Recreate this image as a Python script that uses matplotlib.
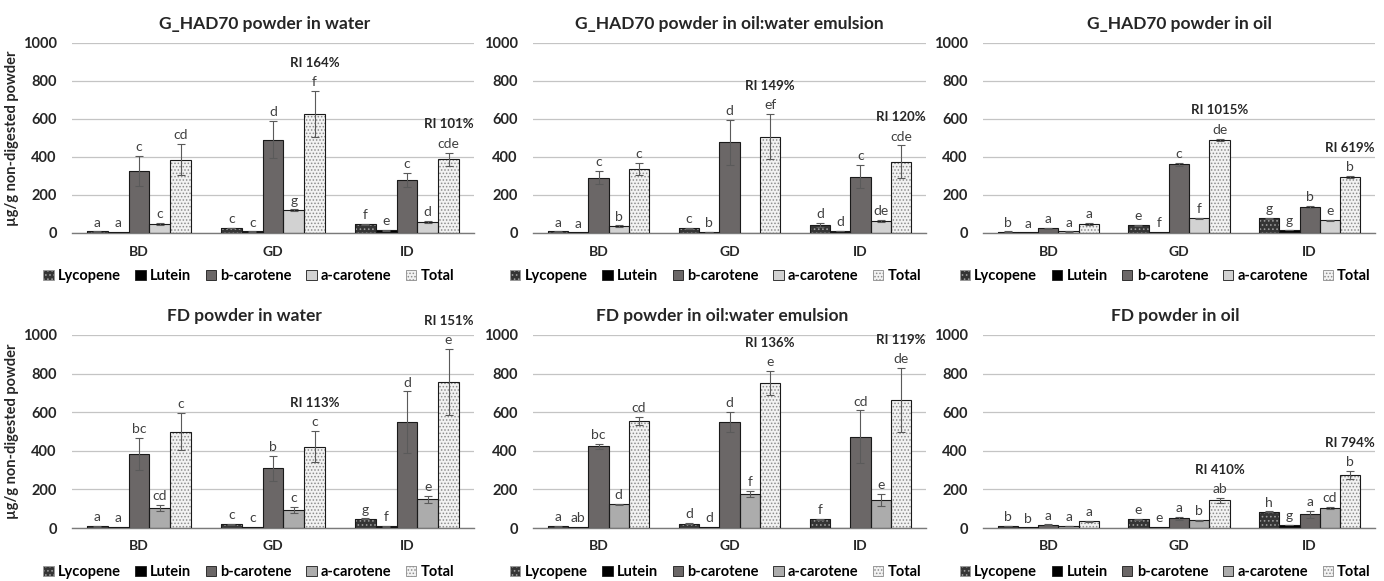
import matplotlib
matplotlib.use('Agg')
import matplotlib.pyplot as plt
from matplotlib.patches import Patch
import numpy as np

plt.rcParams['font.family'] = ['Lato', 'DejaVu Sans']
plt.rcParams['hatch.linewidth'] = 0.7

categories = ['BD', 'GD', 'ID']
series = ['Lycopene', 'Lutein', 'b-carotene', 'a-carotene', 'Total']
titles = ['G_HAD70 powder in water', 'G_HAD70 powder in oil:water emulsion', 'G_HAD70 powder in oil',
          'FD powder in water', 'FD powder in oil:water emulsion', 'FD powder in oil']
ylabel = 'µg/g non-digested powder'

# rows = series, columns = categories (BD, GD, ID)
p1_mean = [[8, 26, 45], [4, 8, 14], [327, 491, 278], [47, 119, 58], [385, 626, 388]]
p1_err = [[1, 2, 3], [0, 1, 1], [78, 98, 37], [5, 5, 4], [82, 120, 35]]
p1_let = [['a', 'c', 'f'], ['a', 'c', 'e'], ['c', 'd', 'c'], ['c', 'g', 'd'], ['cd', 'f', 'cde']]
p1_ri = ['', 'RI 164%', 'RI 101%']

p2_mean = [[8, 25, 42], [3, 6, 10], [292, 477, 296], [37, 0, 63], [338, 507, 375]]
p2_err = [[1, 3, 10], [0, 1, 1], [34, 118, 61], [3, 0, 5], [33, 120, 86]]
p2_let = [['a', 'c', 'd'], ['a', 'b', 'd'], ['c', 'd', 'c'], ['b', '', 'de'], ['c', 'ef', 'cde']]
p2_ri = ['', 'RI 149%', 'RI 120%']

p3_mean = [[7, 40, 77], [3, 6, 17], [24, 361, 138], [8, 77, 66], [49, 490, 296]]
p3_err = [[1, 2, 2], [0, 0, 1], [3, 6, 6], [1, 2, 3], [5, 7, 5]]
p3_let = [['b', 'e', 'g'], ['a', 'f', 'g'], ['a', 'c', 'b'], ['a', 'f', 'e'], ['a', 'de', 'b']]
p3_ri = ['', 'RI 1015%', 'RI 619%']

p4_mean = [[8, 19, 48], [4, 4, 8], [383, 310, 548], [103, 93, 148], [500, 422, 755]]
p4_err = [[1, 2, 2], [0, 0, 1], [83, 64, 160], [17, 15, 20], [95, 81, 172]]
p4_let = [['a', 'c', 'g'], ['a', 'c', 'f'], ['bc', 'b', 'd'], ['cd', 'c', 'e'], ['c', 'c', 'e']]
p4_ri = ['', 'RI 113%', 'RI 151%']

p5_mean = [[8, 23, 45], [4, 4, 0], [423, 548, 473], [122, 176, 146], [553, 751, 663]]
p5_err = [[1, 2, 2], [0, 0, 0], [12, 52, 136], [3, 15, 30], [21, 63, 167]]
p5_let = [['a', 'd', 'f'], ['ab', 'd', ''], ['bc', 'd', 'cd'], ['d', 'f', 'e'], ['cd', 'e', 'de']]
p5_ri = ['', 'RI 136%', 'RI 119%']

p6_mean = [[10, 45, 84], [3, 5, 15], [17, 50, 70], [10, 41, 106], [34, 144, 276]]
p6_err = [[1, 2, 2], [0, 0, 1], [2, 8, 17], [2, 3, 5], [4, 12, 20]]
p6_let = [['b', 'e', 'h'], ['b', 'e', 'g'], ['a', 'a', 'a'], ['a', 'b', 'cd'], ['a', 'ab', 'b']]
p6_ri = ['', 'RI 410%', 'RI 794%']

panels = [
    (p1_mean, p1_err, p1_let, p1_ri),
    (p2_mean, p2_err, p2_let, p2_ri),
    (p3_mean, p3_err, p3_let, p3_ri),
    (p4_mean, p4_err, p4_let, p4_ri),
    (p5_mean, p5_err, p5_let, p5_ri),
    (p6_mean, p6_err, p6_let, p6_ri),
]

# styles
W, H = 1384, 581
face_colors_top = ['#353535', '#000000', '#6b6767', '#d2d2d2', '#f2f2f2']
face_colors_bot = ['#353535', '#000000', '#6b6767', '#acacac', '#f2f2f2']
hatches = ['....', None, None, None, '.....']
hatch_colors = ['#9a9a9a', None, None, None, '#8c8c8c']

fig = plt.figure(figsize=(W / 100, H / 100), dpi=100)
lefts = [72, 533, 983]
rights = [474, 926, 1375]
row_y = [(43, 233), (335, 528)]
title_x = [[0.478, 0.5, 0.5], [0.43, 0.48, 0.49]]
legend_x = [0.44, 0.465, 0.465]

bw = 0.155
offsets = (np.arange(5) - 2) * bw
x = np.arange(len(categories))

for idx, (mean, err, let, ri) in enumerate(panels):
    r, c = divmod(idx, 3)
    y1, y0 = row_y[r]
    ax = fig.add_axes([lefts[c] / W, 1 - y0 / H, (rights[c] - lefts[c]) / W, (y0 - y1) / H])
    fcs = face_colors_top if r == 0 else face_colors_bot
    handles = []
    for s in range(5):
        xs = x + offsets[s]
        vals = np.array(mean[s], dtype=float)
        errs = np.array(err[s], dtype=float)
        if hatches[s]:
            ax.bar(xs, vals, bw, color=fcs[s], hatch=hatches[s], edgecolor=hatch_colors[s], linewidth=0, zorder=2)
        else:
            ax.bar(xs, vals, bw, color=fcs[s], linewidth=0, zorder=2)
        ax.bar(xs, vals, bw, facecolor='none', edgecolor='#1a1a1a', linewidth=0.8, zorder=3)
        mask = errs > 0
        ax.errorbar(xs[mask], vals[mask], yerr=errs[mask], fmt='none', ecolor='#5a5a5a',
                    elinewidth=0.8, capsize=3, capthick=0.8, zorder=4)
        for k in range(3):
            if let[s][k]:
                ax.annotate(let[s][k], (xs[k], vals[k] + errs[k]), xytext=(0, 2), textcoords='offset points',
                            ha='center', va='bottom', fontsize=10, color='#404040', zorder=5)
        handles.append(Patch(facecolor=fcs[s], hatch=hatches[s],
                             edgecolor=hatch_colors[s] if hatches[s] else '#1a1a1a', linewidth=0.6,
                             label=series[s]))
    tot = np.array(mean[4], dtype=float) + np.array(err[4], dtype=float)
    for k in range(3):
        if ri[k]:
            ax.annotate(ri[k], (x[k] + offsets[4], tot[k]), xytext=(0, 16), textcoords='offset points',
                        ha='center', va='bottom', fontsize=9.5, fontweight='bold', color='#262626',
                        annotation_clip=False)
    ax.set_xlim(-0.5, 2.5)
    ax.set_ylim(0, 1000)
    ax.set_yticks(np.arange(0, 1001, 200))
    ax.yaxis.grid(True, color='#c4c4c4', linewidth=0.9, zorder=0)
    ax.set_axisbelow(True)
    for sp in ['top', 'right', 'left']:
        ax.spines[sp].set_visible(False)
    ax.spines['bottom'].set_color('#7a7a7a')
    ax.spines['bottom'].set_linewidth(1.0)
    ax.set_xticks(x)
    ax.set_xticklabels(categories, fontsize=10, fontweight='bold', color='#262626')
    ax.tick_params(axis='both', length=0)
    ax.tick_params(axis='x', pad=9)
    ax.tick_params(axis='y', pad=11, labelsize=10.5, labelcolor='#262626')
    for t in ax.get_yticklabels():
        t.set_fontweight('bold')
    ax.set_title(titles[idx], fontsize=12.5, fontweight='bold', color='#262626', x=title_x[r][c], pad=10)
    if c == 0:
        ax.set_ylabel(ylabel, fontsize=10.5, fontweight='bold', color='#262626', labelpad=3)
    ax.legend(handles=handles, loc='upper center', bbox_to_anchor=(legend_x[c], -0.16), ncol=5,
              frameon=False, prop={'weight': 'bold', 'size': 10.5}, handlelength=0.7, handleheight=0.7,
              handletextpad=0.3, columnspacing=1.0, borderaxespad=0)

fig.savefig('out.png', dpi=100, facecolor='white')
